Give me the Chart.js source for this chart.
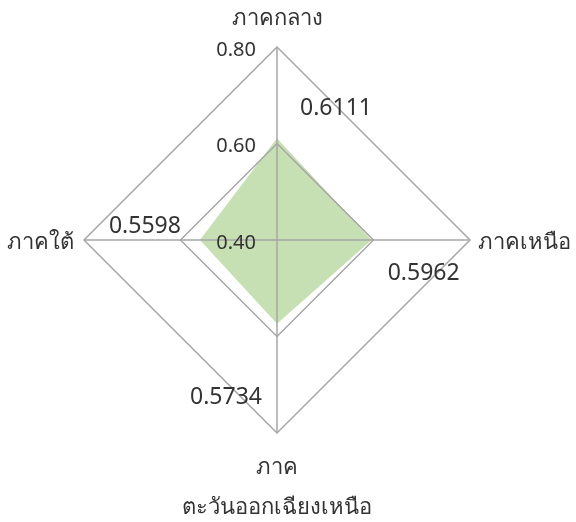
<!DOCTYPE html>
<html>
<head>
<meta charset="utf-8">
<script src="https://cdn.jsdelivr.net/npm/chart.js@4.4.1/dist/chart.umd.min.js"></script>
<style>
  html, body { margin: 0; padding: 0; background: #fff; }
  #wrap { width: 576px; height: 522px; }
</style>
</head>
<body>
<div id="wrap"><canvas id="radarChart" width="576" height="522"></canvas></div>
<script>
const regions = ['ภาคกลาง', 'ภาคเหนือ', ['ภาค', 'ตะวันออกเฉียงเหนือ'], 'ภาคใต้'];
const scores = [0.6111, 0.5962, 0.5734, 0.5598];
const tickValues = [0.40, 0.60, 0.80];
const scaleMin = 0.4;
const scaleMax = 0.8;
const scaleStep = 0.2;

// value label offset from its point, px
const valueShift = [[59, -30], [52, 33], [-51, 74], [-55, -14]];

const textColor = '#333333';
const fontFamily = '"Noto Sans", sans-serif';

const radarText = {
    id: 'radarText',
    afterDraw(chart) {
        const ctx = chart.ctx;
        const r = chart.scales.r;
        const R = r.drawingArea;
        ctx.save();
        ctx.fillStyle = textColor;

        // tick labels, left of the vertical axis
        ctx.font = '20px ' + fontFamily;
        ctx.textAlign = 'right';
        ctx.textBaseline = 'middle';
        tickValues.forEach(v => {
            const y = r.yCenter - r.getDistanceFromCenterForValue(v);
            ctx.fillText(v.toFixed(2), r.xCenter - 21, y + 3);
        });

        // data labels
        ctx.font = '23px ' + fontFamily;
        ctx.textAlign = 'center';
        chart.getDatasetMeta(0).data.forEach((pt, i) => {
            ctx.fillText(scores[i].toFixed(4), pt.x + valueShift[i][0], pt.y + valueShift[i][1]);
        });

        // category labels
        ctx.font = '22px ' + fontFamily;
        let p = r.getPointPosition(0, R + 28);
        ctx.textAlign = 'center';
        ctx.fillText(regions[0], p.x, p.y);

        p = r.getPointPosition(1, R + 8);
        ctx.textAlign = 'left';
        ctx.fillText(regions[1], p.x, p.y + 3);

        p = r.getPointPosition(2, R + 35);
        ctx.textAlign = 'center';
        regions[2].forEach((line, k) => ctx.fillText(line, p.x, p.y + k * 40));

        p = r.getPointPosition(3, R + 10);
        ctx.textAlign = 'right';
        ctx.fillText(regions[3], p.x, p.y + 3);

        ctx.restore();
    }
};

const ctx = document.getElementById('radarChart').getContext('2d');
new Chart(ctx, {
    type: 'radar',
    data: {
        labels: regions,
        datasets: [{
            label: 'คะแนน',
            data: scores,
            backgroundColor: '#c6e0b4',
            borderWidth: 0,
            pointRadius: 0,
            fill: true
        }]
    },
    options: {
        responsive: false,
        animation: false,
        layout: {
            padding: { left: 84, right: 106, top: 47, bottom: 89 }
        },
        plugins: {
            legend: { display: false },
            tooltip: { enabled: false }
        },
        scales: {
            r: {
                min: scaleMin,
                max: scaleMax,
                ticks: { stepSize: scaleStep, display: false, z: 1 },
                pointLabels: { display: false },
                grid: { color: '#a6a6a6', lineWidth: 1.5, z: 1 },
                angleLines: { color: '#a6a6a6', lineWidth: 1.5 }
            }
        }
    },
    plugins: [radarText]
});
</script>
</body>
</html>
